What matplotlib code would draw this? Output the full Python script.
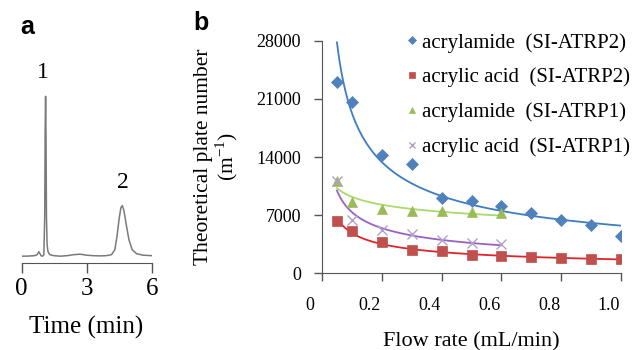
"""Chromatogram (a) and plate number vs flow rate (b)."""

import numpy as np
import matplotlib

matplotlib.use("Agg")
import matplotlib.pyplot as plt
import matplotlib.transforms as mtransforms

plt.rcParams["font.family"] = ["Liberation Serif", "DejaVu Serif"]
plt.rcParams["mathtext.fontset"] = "custom"
plt.rcParams["mathtext.rm"] = "Liberation Serif"

W, H = 633, 350

# --- panel a: chromatogram trace (arbitrary units)
trace_time = [0.0, 0.3, 0.6, 0.72, 0.8, 0.85, 0.9, 0.97, 1.03, 1.07, 1.09,
              1.11, 1.13, 1.15, 1.18, 1.22, 1.3, 1.5, 1.8, 2.1, 2.4, 2.7,
              3.0, 3.3, 3.6, 3.9, 4.15, 4.3, 4.4, 4.5, 4.58, 4.65, 4.72,
              4.82, 4.95, 5.1, 5.3, 5.6, 6.0]
trace_signal = [0.5, 0.6, 1.0, 2.0, 5.0, 3.0, 1.0, 0.5, 2.0, 40, 125,
                160, 120, 40, 12, 5, 2, 1.0, 0.5, 1.0, 2.0, 2.5,
                1.5, 1.0, 0.8, 1.0, 2.0, 7, 20, 38, 49, 51, 46,
                33, 17, 7, 3, 1.5, 1.0]
peak_labels = ["1", "2"]
peak_label_time = [0.98, 4.68]
peak_label_signal = [184, 74]
time_ticks = [0, 3, 6]

# --- panel b: theoretical plate number (m^-1) vs flow rate (mL/min)
flow_long = [0.05, 0.1, 0.2, 0.3, 0.4, 0.5, 0.6, 0.7, 0.8, 0.9, 1.0]
flow_short = [0.05, 0.1, 0.2, 0.3, 0.4, 0.5, 0.6]
acrylamide_2 = [23050, 20600, 14300, 13150, 9100, 8750, 8150, 7200, 6400, 5800, 4500]
acrylic_2 = [6300, 5100, 3750, 2850, 2650, 2200, 2080, 1960, 1810, 1760, 1690]
acrylamide_1 = [11150, 8600, 7700, 7550, 7500, 7350, 7230]
acrylic_1 = [11100, 6420, 5210, 4730, 4010, 3610, 3530]

series = [
    ("acrylamide  (SI-ATRP2)", flow_long, acrylamide_2, "D", "#4F81BD", "#3D7CC6", 6),
    ("acrylic acid  (SI-ATRP2)", flow_long, acrylic_2, "s", "#C0504D", "#E0242A", 6.5),
    ("acrylamide  (SI-ATRP1)", flow_short, acrylamide_1, "^", "#9BBB59", "#A8DA6C", 7),
    ("acrylic acid  (SI-ATRP1)", flow_short, acrylic_1, "x", "#B09FCB", "#9B5FC8", 7),
]
yticks = [0, 7000, 14000, 21000, 28000]
xticks = [0, 0.2, 0.4, 0.6, 0.8, 1.0]
xtick_labels = ["0", "0.2", "0.4", "0.6", "0.8", "1.0"]


def px_rect(left, top, right, bottom):
    return [left / W, (H - bottom) / H, (right - left) / W, (bottom - top) / H]


fig = plt.figure(figsize=(W / 100, H / 100), dpi=100)

# ---------------- panel a
ax1 = fig.add_axes(px_rect(21.5, 90, 151.7, 263))
ax1.plot(trace_time, trace_signal, color="#7a7a7a", lw=1.1)
for lab, t, s in zip(peak_labels, peak_label_time, peak_label_signal):
    ax1.text(t, s, lab, ha="center", va="center", fontsize=17, clip_on=False)
ax1.set_xlim(0, 6)
ax1.set_ylim(-6.3, 166.3)
ax1.set_xticks(time_ticks)
ax1.set_xticklabels([str(t) for t in time_ticks], fontsize=18)
ax1.set_yticks([])
for side in ("left", "right", "top"):
    ax1.spines[side].set_visible(False)
ax1.spines["bottom"].set_color("#555555")
ax1.tick_params(axis="x", direction="out", length=7, width=1, color="#555555", pad=4)
ax1.set_xlabel("Time (min)", fontsize=18, labelpad=11)

# ---------------- panel b
ax2 = fig.add_axes(px_rect(322, 40.7, 621, 273.3))
for label, x, y, marker, mcol, lcol, ms in series:
    x = np.asarray(x)
    y = np.asarray(y)
    # power-law trendline fitted in log-log space
    b, log_a = np.polyfit(np.log(x), np.log(y), 1)
    xf = np.linspace(x.min(), x.max(), 200)
    ax2.plot(xf, np.exp(log_a) * xf ** b, color=lcol, lw=1.3, zorder=2)
    ax2.plot(x, y, ls="none", marker=marker, color=mcol, ms=ms,
             mew=1.0 if marker == "x" else 0.5, label=label, zorder=3)

ax2.set_xlim(0, 1.0)
ax2.set_ylim(0, 28000)
ax2.set_yticks(yticks)
ax2.set_yticklabels([str(v) for v in yticks], fontsize=13)
ax2.set_xticks(xticks)
ax2.set_xticklabels(xtick_labels, fontsize=13)
for side in ("right", "top"):
    ax2.spines[side].set_visible(False)
for side in ("left", "bottom"):
    ax2.spines[side].set_color("#555555")
ax2.tick_params(axis="both", direction="out", length=6, width=1, color="#555555")
ax2.tick_params(axis="y", pad=9)
ax2.tick_params(axis="x", pad=11)
shift = mtransforms.ScaledTranslation(-12 / 100, 0, fig.dpi_scale_trans)
for tl in ax2.get_xticklabels():
    tl.set_transform(tl.get_transform() + shift)

ax2.set_xlabel("Flow rate (mL/min)", fontsize=16, labelpad=13)
ax2.set_ylabel("Theoretical plate number\n(m$^{-1}$)", fontsize=15.5,
               labelpad=12, linespacing=1.0)

ax2.legend(loc="upper left", bbox_to_anchor=(406.5 / W, (H - 33) / H),
           bbox_transform=fig.transFigure, frameon=False, fontsize=15,
           handlelength=0.5, handletextpad=0.25, borderpad=0, borderaxespad=0,
           labelspacing=0.72, markerscale=0.7)

# panel letters
fig.text(27.5 / W, 1 - 27 / H, "a", fontsize=18, fontweight="bold",
         family="Liberation Sans", ha="center", va="center")
fig.text(201 / W, 1 - 23 / H, "b", fontsize=18, fontweight="bold",
         family="Liberation Sans", ha="center", va="center")

fig.savefig("out.png", dpi=100)
